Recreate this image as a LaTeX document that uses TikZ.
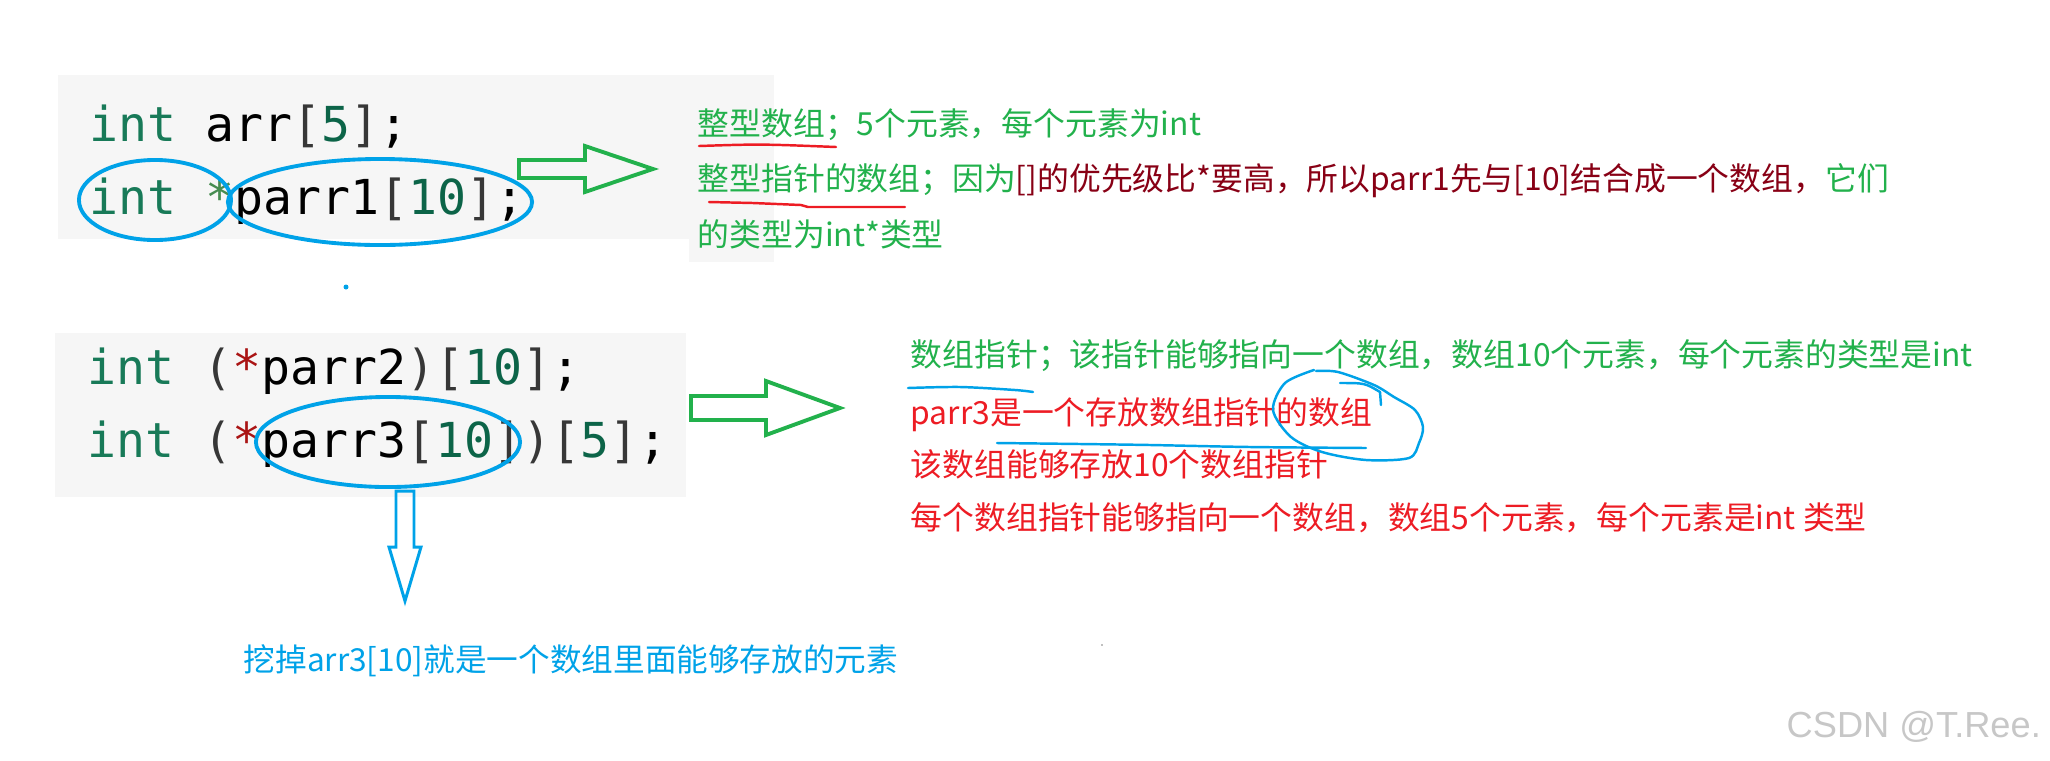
\documentclass[tikz,border=0pt]{standalone}
\usepackage{fontspec}
\setmonofont{DejaVu Sans Mono}
\newfontfamily\cjk{Noto Sans CJK SC}
\newfontfamily\wmfont{Liberation Sans}
\usepackage{xcolor}
\usepackage{tikz}
\usetikzlibrary{calc}

\definecolor{kwgreen}{RGB}{24,122,88}
\definecolor{numgreen}{RGB}{12,100,72}
\definecolor{stargreen}{RGB}{70,140,80}
\definecolor{brgray}{RGB}{55,55,55}
\definecolor{starred}{RGB}{170,20,20}
\definecolor{notegreen}{RGB}{34,177,76}
\definecolor{darkred}{RGB}{136,0,21}
\definecolor{brightred}{RGB}{237,28,36}
\definecolor{penblue}{RGB}{0,162,232}
\definecolor{codebg}{RGB}{246,246,246}

\newcommand{\ckw}[1]{\textcolor{kwgreen}{#1}}
\newcommand{\cnum}[1]{\textcolor{numgreen}{#1}}
\newcommand{\cbr}[1]{\textcolor{brgray}{#1}}

\begin{document}
\begin{tikzpicture}[x=0.01cm, y=-0.01cm,
    codeline/.style={anchor=base west, inner sep=0pt, font=\ttfamily\fontsize{13.7}{16}\selectfont},
    note/.style={anchor=base west, inner sep=0pt, font=\cjk\fontsize{9.05}{11}\selectfont},
    bluepen/.style={draw=penblue, line width=1.1pt},
    greenpen/.style={draw=notegreen, line width=1.1pt},
    redpen/.style={draw=brightred, line width=0.7pt, line cap=round},
    scribble/.style={draw=penblue, line width=0.7pt, line cap=round, line join=round}]
\useasboundingbox (0,0) rectangle (2050,760);

% code snippets
\fill[codebg] (58,75) rectangle (774,239);
\fill[codebg] (689,239) rectangle (774,262);
\fill[codebg] (55,333) rectangle (686,497);

\node[codeline] (arr) at (89,141) {\ckw{int} arr\cbr{[}\cnum{5}\cbr{]};};
\node[codeline] (parr1) at (89,214) {\ckw{int} \textcolor{stargreen}{*}parr1\cbr{[}\cnum{10}\cbr{]};};
\node[codeline] (parr2) at (87,384) {\ckw{int} \cbr{(}\textcolor{starred}{*}parr2\cbr{)[}\cnum{10}\cbr{]};};
\node[codeline] (parr3) at (87,457) {\ckw{int} \cbr{(}\textcolor{starred}{*}parr3\cbr{[}\cnum{10}\cbr{])[}\cnum{5}\cbr{]};};

% blue rings
\draw[bluepen] (155,200) ellipse [x radius=0.76cm, y radius=0.40cm];
\draw[bluepen] (380,202) ellipse [x radius=1.52cm, y radius=0.43cm];
\draw[bluepen] (388,442) ellipse [x radius=1.32cm, y radius=0.45cm];
\fill[penblue] (346,287) circle (0.025cm);

% hollow arrows
\coordinate (ga1s) at (519,169);
\coordinate (ga1e) at (653,169);
\draw[greenpen] (ga1s) ++(0,-9) -- ++(66,0) -- ++(0,-14) -- (ga1e) -- ++(-68,23) -- ++(0,-14) -- ++(-66,0) -- cycle;
\coordinate (ga2s) at (691,408);
\coordinate (ga2e) at (840,408);
\draw[greenpen] (ga2s) ++(0,-12) -- ++(75,0) -- ++(0,-15) -- (ga2e) -- ++(-74,27) -- ++(0,-15) -- ++(-75,0) -- cycle;
\coordinate (ba1s) at (405,491);
\coordinate (ba1e) at (405,601);
\draw[bluepen, line width=0.85pt] (ba1s) ++(-9,0) -- ++(0,56) -- ++(-7,0) -- (ba1e) -- ++(16,-54) -- ++(-7,0) -- ++(0,-56) -- cycle;

% notes for parr1
\node[note, text=notegreen] (n11) at (697,135) {整型数组；5个元素，每个元素为int};
\node[note] (n12) at (697,190) {\textcolor{notegreen}{整型指针的数组；因为}\textcolor{darkred}{[]的优先级比*要高，所以parr1先与[10]结合成一个数组，}\textcolor{notegreen}{它们}};
\node[note, text=notegreen] (n13) at (697,246) {的类型为int*类型};
\draw[redpen] (699,146) .. controls (760,144) .. (836,147);
\draw[redpen] (709,202) -- (753,203) -- (801,205) -- (808,207) -- (905,207);

% notes for parr2, parr3
\node[note, text=notegreen] (n21) at (910,366) {数组指针；该指针能够指向一个数组，数组10个元素，每个元素的类型是int};
\node[note, text=brightred] (n22) at (910,424) {parr3是一个存放数组指针的数组};
\node[note, text=brightred] (n23) at (910,476) {该数组能够存放10个数组指针};
\node[note, text=brightred] (n24) at (910,529) {每个数组指针能够指向一个数组，数组5个元素，每个元素是int 类型};
\draw[scribble] plot[smooth] coordinates {(908,388) (960,387) (1015,390) (1033,392)};
\draw[scribble] plot[smooth] coordinates {(997,443) (1080,444) (1150,445) (1250,447) (1366,448)};
\draw[scribble] plot[smooth] coordinates {(1314,370) (1285,383) (1273,410) (1291,437) (1322,452) (1366,460) (1409,458) (1419,443) (1423,427) (1415,410) (1394,397) (1374,385) (1338,372) (1316,371)};
\draw[scribble] (1340,383) .. controls (1365,383) .. (1380,392) -- (1381,405);

\node[note, text=penblue, font=\cjk\fontsize{9.0}{10}\selectfont] (dig) at (243,671) {挖掉arr3[10]就是一个数组里面能够存放的元素};
\fill[gray] (1102,645) circle (0.008cm);

\node[anchor=base west, inner sep=0pt, text=black!22, font=\wmfont\fontsize{10.3}{12}\selectfont] (mark) at (1786,737) {CSDN @T.Ree.};
\end{tikzpicture}
\end{document}
